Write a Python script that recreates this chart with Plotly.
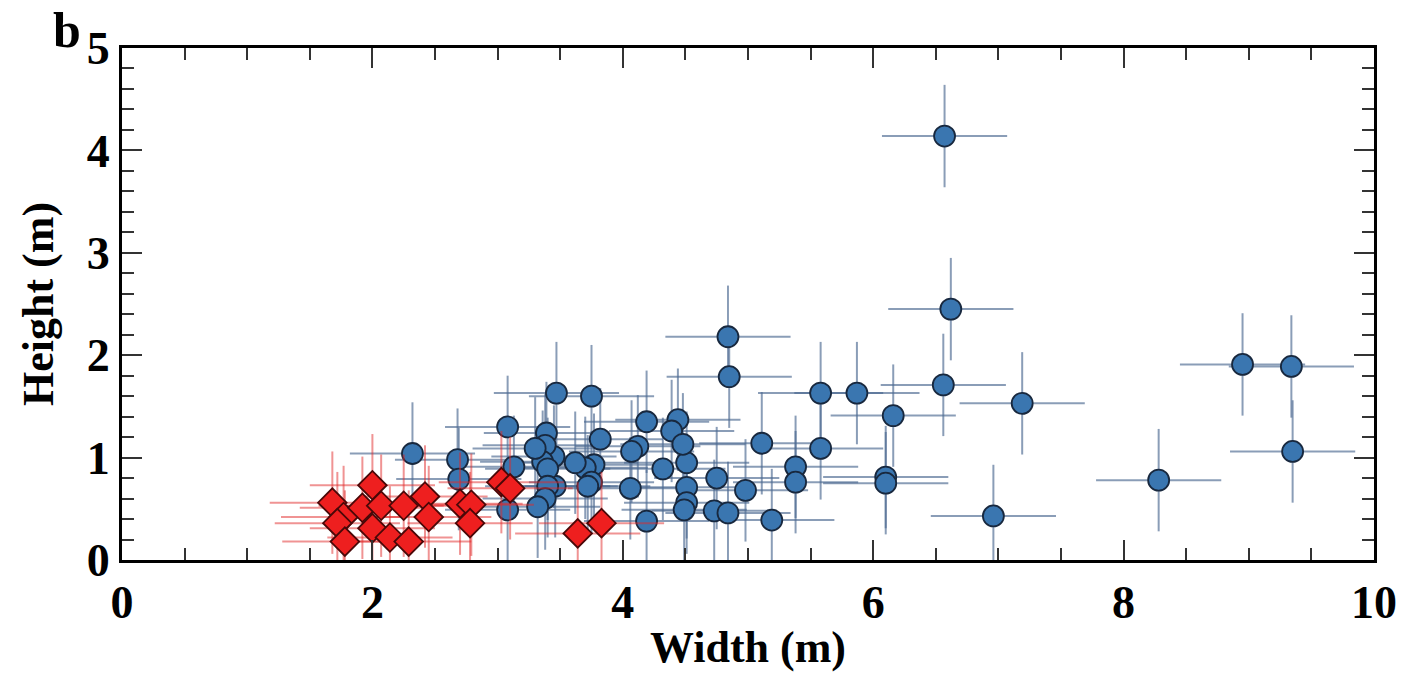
import plotly.graph_objects as go

# Blue circles (Width, Height) in metres
blue_x = [6.57, 6.62, 4.84, 4.85, 6.56, 7.19, 8.95, 9.34, 9.35, 8.28, 6.96,
          5.58, 5.87, 6.16, 5.58, 5.11, 5.38, 5.38, 6.10, 6.10, 4.98, 5.19,
          4.75, 4.73, 4.84, 4.51, 4.51, 4.51, 4.49, 4.44, 4.39, 4.48, 4.32,
          4.19, 4.12, 4.07, 4.06, 4.19, 3.82, 3.75, 3.77, 3.70, 3.75, 3.72,
          3.62, 3.47, 3.45, 3.46, 3.39, 3.38, 3.36, 3.40, 3.40, 3.38, 3.32,
          3.30, 3.08, 3.13, 3.08, 2.68, 2.69, 2.32]
blue_y = [4.14, 2.45, 2.18, 1.79, 1.71, 1.53, 1.91, 1.89, 1.06, 0.78, 0.43,
          1.63, 1.63, 1.41, 1.09, 1.14, 0.91, 0.76, 0.81, 0.75, 0.68, 0.39,
          0.80, 0.48, 0.46, 0.95, 0.71, 0.56, 0.49, 1.37, 1.26, 1.13, 0.89,
          1.35, 1.11, 1.06, 0.70, 0.38, 1.18, 1.60, 0.93, 0.90, 0.76, 0.72,
          0.95, 1.63, 1.01, 0.72, 1.24, 1.12, 0.96, 0.89, 0.72, 0.60, 0.52,
          1.09, 1.30, 0.91, 0.49, 0.98, 0.79, 1.04]
blue_xerr = [0.5] * len(blue_x)
blue_yerr = [0.5] * len(blue_y)

# Red diamonds
red_x = [1.68, 1.77, 1.72, 1.78, 2.00, 1.92, 2.07, 2.00, 2.14, 2.25, 2.29,
         2.42, 2.45, 2.70, 2.79, 2.78, 3.03, 3.10, 3.64, 3.83]
red_y = [0.56, 0.42, 0.36, 0.18, 0.73, 0.51, 0.53, 0.31, 0.22, 0.53, 0.18,
         0.62, 0.42, 0.55, 0.54, 0.36, 0.76, 0.70, 0.26, 0.36]
red_xerr = [0.5] * len(red_x)
red_yerr = [0.5] * len(red_y)

x_ticks = [0, 2, 4, 6, 8, 10]
y_ticks = [0, 1, 2, 3, 4, 5]

FONT = "Liberation Serif"

fig = go.Figure()
fig.add_trace(go.Scatter(
    x=blue_x, y=blue_y, mode="markers",
    error_x=dict(type="data", array=blue_xerr, color="rgba(75,105,145,0.65)",
                 thickness=2, width=0),
    error_y=dict(type="data", array=blue_yerr, color="rgba(75,105,145,0.65)",
                 thickness=2, width=0),
    marker=dict(symbol="circle", size=21, color="#3a76b0",
                line=dict(color="#18283e", width=1.8)),
    showlegend=False,
))
fig.add_trace(go.Scatter(
    x=red_x, y=red_y, mode="markers",
    error_x=dict(type="data", array=red_xerr, color="rgba(225,40,40,0.5)",
                 thickness=2, width=0),
    error_y=dict(type="data", array=red_yerr, color="rgba(225,40,40,0.5)",
                 thickness=2, width=0),
    marker=dict(symbol="diamond", size=22, color="#ee1f1f",
                line=dict(color="#4a0808", width=1.8)),
    showlegend=False,
))

axis_common = dict(
    showgrid=False, zeroline=False, showline=True, linecolor="black",
    linewidth=3, mirror="allticks", ticks="inside", ticklen=20, tickwidth=2,
    tickcolor="#333333",
    tickfont=dict(family=FONT, size=46, color="black", weight="bold"),
)

fig.update_xaxes(
    range=[0, 10], tickvals=x_ticks, ticktext=[str(v) for v in x_ticks],
    minor=dict(dtick=0.5, ticks="inside", ticklen=12, tickwidth=2,
               tickcolor="#333333"),
    title=dict(text="<b>Width (m)</b>", font=dict(family=FONT, size=44, color="black"),
               standoff=4),
    **axis_common,
)
fig.update_yaxes(
    range=[0, 5], tickvals=y_ticks, ticktext=[str(v) for v in y_ticks],
    minor=dict(dtick=0.2, ticks="inside", ticklen=12, tickwidth=2,
               tickcolor="#333333"),
    title=dict(text="<b>Height (m)</b>", font=dict(family=FONT, size=44, color="black"),
               standoff=20),
    **axis_common,
)

fig.add_annotation(text="<b>b</b>", xref="paper", yref="paper", x=-0.044, y=1.035,
                   xanchor="center", yanchor="middle", showarrow=False,
                   font=dict(family=FONT, size=50, color="black"))

fig.update_layout(
    width=1414, height=677,
    margin=dict(l=122, r=40, t=48, b=117),
    plot_bgcolor="white", paper_bgcolor="white",
)

fig.write_html("out.html")
